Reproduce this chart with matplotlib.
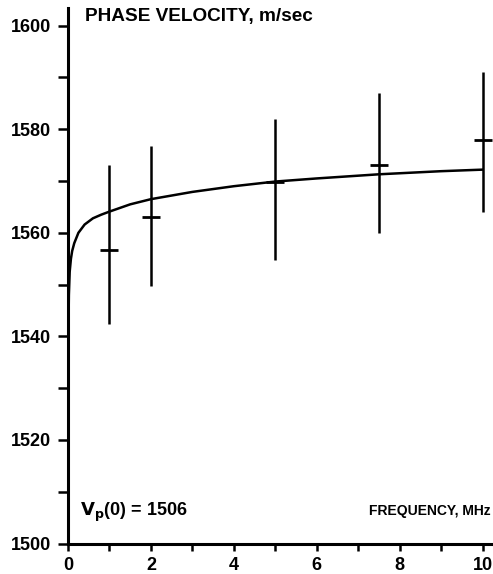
import matplotlib.pyplot as plt
from matplotlib.ticker import MultipleLocator

# measured points (frequency in MHz, phase velocity in m/s)
freq = [1.0, 2.0, 5.0, 7.5, 10.0]
vel = [1556.6, 1563.0, 1569.9, 1573.0, 1577.9]
err_low = [14.2, 13.2, 15.2, 13.1, 13.8]
err_high = [16.4, 13.7, 12.1, 14.0, 13.1]

# fitted dispersion curve
curve_f = [0.0, 0.002, 0.005, 0.01, 0.02, 0.04, 0.07, 0.1, 0.15, 0.25, 0.4,
           0.6, 0.8, 1.0, 1.5, 2.0, 3.0, 4.0, 5.0, 6.0, 7.5, 9.0, 10.0]
curve_v = [1506.0, 1520.0, 1532.0, 1541.0, 1548.0, 1552.5, 1555.0, 1556.5,
           1558.0, 1560.0, 1561.6, 1562.8, 1563.5, 1564.1, 1565.5, 1566.5,
           1567.9, 1569.0, 1569.9, 1570.5, 1571.3, 1571.9, 1572.2]

plt.rcParams['font.family'] = ['Liberation Sans', 'DejaVu Sans']

fig = plt.figure(figsize=(4.93, 5.74), dpi=100)
ax = fig.add_axes([0.138, 0.053, 0.862, 0.933])

ax.plot(curve_f, curve_v, color='black', lw=1.8)
ax.errorbar(freq, vel, yerr=[err_low, err_high], fmt='_', color='black',
            ms=13, mew=2, elinewidth=1.8, capsize=0)

ax.set_xlim(0, 10.25)
ax.set_ylim(1500, 1603.4)
ax.xaxis.set_major_locator(MultipleLocator(2))
ax.xaxis.set_minor_locator(MultipleLocator(1))
ax.yaxis.set_major_locator(MultipleLocator(20))
ax.yaxis.set_minor_locator(MultipleLocator(10))

for s in ['top', 'right']:
    ax.spines[s].set_visible(False)
for s in ['left', 'bottom']:
    ax.spines[s].set_linewidth(2.2)

ax.tick_params(which='both', direction='out', width=1.8, length=7,
               labelsize=13)
ax.tick_params(axis='y', pad=5)
ax.tick_params(axis='x', which='both', length=5, pad=5)
for lab in ax.get_xticklabels() + ax.get_yticklabels():
    lab.set_fontweight('bold')

ax.text(0.04, 1.0, 'PHASE VELOCITY, m/sec', transform=ax.transAxes,
        fontsize=13.7, fontweight='bold', va='top', ha='left')
ax.text(0.995, 0.06, 'FREQUENCY, MHz', transform=ax.transAxes,
        fontsize=10, fontweight='bold', va='center', ha='right')
ax.text(0.3, 1506, r'$\mathbf{V_p}$' + '(0) = 1506', fontsize=13,
        fontweight='bold', va='center', ha='left')

fig.savefig('out.png', dpi=100)
